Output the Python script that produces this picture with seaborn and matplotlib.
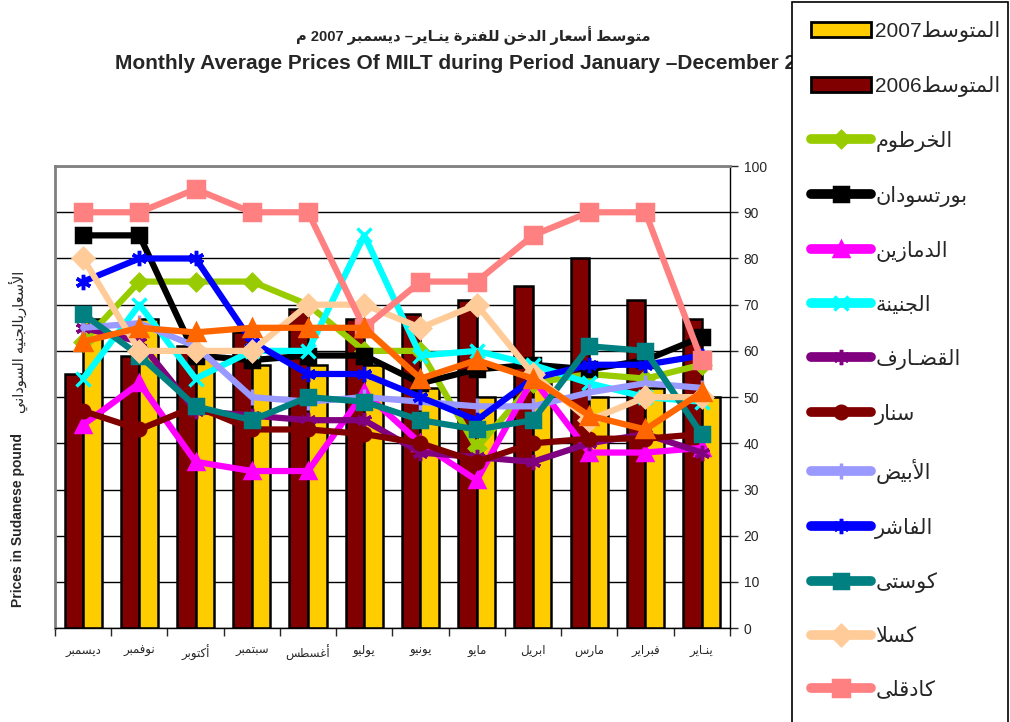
import re
import pandas as pd
import numpy as np
import matplotlib
matplotlib.use("Agg")
import matplotlib.pyplot as plt
import seaborn as sns
from matplotlib.lines import Line2D
from matplotlib.patches import Patch

# Arabic presentation forms: letter -> (isolated code point, number of forms)
ARABIC_FORMS = {
    'ء': (0xFE80, 1), 'آ': (0xFE81, 2), 'أ': (0xFE83, 2), 'ؤ': (0xFE85, 2), 'إ': (0xFE87, 2),
    'ئ': (0xFE89, 4), 'ا': (0xFE8D, 2), 'ب': (0xFE8F, 4), 'ة': (0xFE93, 2), 'ت': (0xFE95, 4),
    'ث': (0xFE99, 4), 'ج': (0xFE9D, 4), 'ح': (0xFEA1, 4), 'خ': (0xFEA5, 4), 'د': (0xFEA9, 2),
    'ذ': (0xFEAB, 2), 'ر': (0xFEAD, 2), 'ز': (0xFEAF, 2), 'س': (0xFEB1, 4), 'ش': (0xFEB5, 4),
    'ص': (0xFEB9, 4), 'ض': (0xFEBD, 4), 'ط': (0xFEC1, 4), 'ظ': (0xFEC5, 4), 'ع': (0xFEC9, 4),
    'غ': (0xFECD, 4), 'ف': (0xFED1, 4), 'ق': (0xFED5, 4), 'ك': (0xFED9, 4), 'ل': (0xFEDD, 4),
    'م': (0xFEE1, 4), 'ن': (0xFEE5, 4), 'ه': (0xFEE9, 4), 'و': (0xFEED, 2), 'ى': (0xFEEF, 2),
    'ي': (0xFEF1, 4),
}
LAM_ALEF = {'آ': 0xFEF5, 'أ': 0xFEF7, 'إ': 0xFEF9, 'ا': 0xFEFB}
TATWEEL = 'ـ'


def joins_next(c):
    return c == TATWEEL or (c in ARABIC_FORMS and ARABIC_FORMS[c][1] == 4)


def joins_prev(c):
    return c == TATWEEL or (c in ARABIC_FORMS and ARABIC_FORMS[c][1] > 1)


def ar(text):
    """Shape Arabic letters and put them in left-to-right drawing order."""
    out = []
    i = 0
    while i < len(text):
        c = text[i]
        link_prev = i > 0 and joins_next(text[i - 1])
        if c == 'ل' and i + 1 < len(text) and text[i + 1] in LAM_ALEF:
            out.append(chr(LAM_ALEF[text[i + 1]] + (1 if link_prev else 0)))
            i += 2
            continue
        if c in ARABIC_FORMS:
            base, n = ARABIC_FORMS[c]
            link_next = n == 4 and i + 1 < len(text) and joins_prev(text[i + 1])
            if n == 1:
                code = base
            elif link_prev and link_next:
                code = base + 3
            elif link_next:
                code = base + 2
            elif link_prev:
                code = base + 1
            else:
                code = base
            out.append(chr(code))
        else:
            out.append(c)
        i += 1
    visual = ''.join(out)[::-1]
    return re.sub(r'[0-9A-Za-z.]+', lambda m: m.group(0)[::-1], visual)


# months January..December (axis runs right to left)
months = ['ينـاير', 'فبراير', 'مارس', 'ابريل', 'مايو', 'يونيو',
          'يوليو', 'أغسطس', 'سبتمبر', 'أكتوبر', 'نوفمبر', 'ديسمبر']

avg_2007 = [50, 52, 50, 53, 50, 52, 57, 57, 57, 59, 67, 67]
avg_2006 = [67, 71, 80, 74, 71, 68, 67, 69, 64, 61, 59, 55]

khartoum = [57, 54, 55, 53, 39, 60, 60, 70, 75, 75, 75, 62]
port_sudan = [63, 58, 56, 57, 56, 53, 59, 59, 58, 59, 85, 85]
damazin = [39, 38, 38, 54, 32, 40, 51, 34, 34, 36, 53, 44]
geneina = [49, 50, 53, 57, 60, 59, 85, 60, 60, 54, 70, 54]
gedaref = [38, 42, 40, 36, 37, 38, 45, 45, 46, 47, 62, 65]
sennar = [42, 41, 41, 40, 36, 40, 42, 43, 43, 48, 43, 47]
obeid = [52, 53, 51, 48, 48, 49, 50, 49, 50, 61, 66, 65]
fasher = [59, 57, 57, 54, 45, 50, 55, 55, 62, 80, 80, 75]
kosti = [42, 60, 61, 45, 43, 45, 49, 50, 45, 48, 59, 68]
kassala = [50, 50, 45, 55, 70, 65, 70, 70, 60, 60, 60, 80]
kadugli = [58, 90, 90, 85, 75, 75, 65, 90, 90, 95, 90, 90]
unnamed_orange = [51, 43, 46, 54, 58, 54, 65, 65, 65, 64, 65, 62]

bar_labels = ['المتوسط2007', 'المتوسط2006']
# the last legend entry falls below the page edge in the original
city_labels = ['الخرطوم', 'بورتسودان', 'الدمازين', 'الجنينة', 'القضـارف', 'سنار',
               'الأبيض', 'الفاشر', 'كوستى', 'كسلا', 'كادقلى', '']

title_ar = 'متوسط أسعار الدخن للفترة ينـاير– ديسمبر 2007 م'
title_en = 'Monthly Average Prices Of MILT during Period January –December 2007'
ylabel_en = 'Prices in Sudanese pound'
ylabel_ar = 'الأسعاربالجنيه السوداني'

# style per line: colour, marker, marker size
series = [
    (khartoum, '#99CC00', 'D', 8),
    (port_sudan, '#000000', 's', 10),
    (damazin, '#FF00FF', '^', 10),
    (geneina, '#00FFFF', 'x', 10),
    (gedaref, '#800080', (6, 2, 0), 11),
    (sennar, '#800000', 'o', 9),
    (obeid, '#9999FF', '|', 11),
    (fasher, '#0000FF', (6, 2, 0), 11),
    (kosti, '#008080', 's', 10),
    (kassala, '#FFCC99', 'D', 10),
    (kadugli, '#FF8080', 's', 11),
    (unnamed_orange, '#FF6600', '^', 11),
]

sns.set_style("white")
plt.rcParams['font.family'] = ['Liberation Sans', 'DejaVu Sans']

shaped_months = [ar(m) for m in months]
order = shaped_months[::-1]  # December on the left

fig = plt.figure(figsize=(10.1, 7.22), dpi=100)
ax = fig.add_axes([0.0545, 0.130, 0.668, 0.640])

bars = pd.DataFrame({
    'month': shaped_months * 2,
    'price': avg_2006 + avg_2007,
    'year': ['2006'] * 12 + ['2007'] * 12,
})
sns.barplot(data=bars, x='month', y='price', hue='year', order=order,
            hue_order=['2006', '2007'], palette=['#800000', '#FFCC00'],
            saturation=1, width=0.66, gap=0, edgecolor='black',
            linewidth=1.8, legend=False, ax=ax)

for vals, color, marker, msize in series:
    sns.pointplot(x=shaped_months, y=vals, order=order, color=color,
                  markers=marker, linestyles='-', markersize=msize,
                  linewidth=4.5, errorbar=None, ax=ax)
for line in ax.lines:
    line.set_markeredgecolor(line.get_color())
    line.set_markeredgewidth(2.5)
    line.set_solid_joinstyle('round')

ax.set_xlim(-0.5, 11.5)
ax.set_ylim(0, 100)
ax.set_yticks(np.arange(0, 101, 10))
ax.yaxis.tick_right()
ax.grid(axis='y', color='black', linewidth=1)
ax.set_axisbelow(True)
ax.set_xlabel('')
ax.set_ylabel('')
ax.tick_params(axis='y', right=True, length=6, width=1, direction='out',
               labelsize=10, pad=4)
ax.tick_params(axis='x', which='major', length=0, labelsize=8.5, pad=12)
ax.set_xticks(np.arange(-0.5, 12, 1), minor=True)
ax.tick_params(axis='x', which='minor', bottom=True, length=6, width=1,
               direction='out')
for side in ['left', 'top']:
    ax.spines[side].set_color('#808080')
    ax.spines[side].set_linewidth(2)
for side in ['right', 'bottom']:
    ax.spines[side].set_color('black')
    ax.spines[side].set_linewidth(1)

fig.text(0.469, 0.951, ar(title_ar), ha='center', va='center',
         fontsize=10.5, fontweight='bold')
fig.text(0.114, 0.912, title_en, ha='left', va='center',
         fontsize=15, fontweight='bold')
fig.text(0.018, 0.28, ylabel_en, rotation=90, ha='center', va='center',
         fontsize=10, fontweight='bold')
fig.text(0.018, 0.527, ar(ylabel_ar), rotation=90, ha='center', va='center',
         fontsize=10.5)

handles = [Patch(facecolor='#FFCC00', edgecolor='black', linewidth=2),
           Patch(facecolor='#800000', edgecolor='black', linewidth=2)]
for vals, color, marker, msize in series:
    handles.append(Line2D([], [], color=color, lw=7, marker=marker,
                          markersize=msize, markeredgecolor=color,
                          markeredgewidth=2.5, solid_capstyle='round'))
labels = [ar(t) for t in bar_labels + city_labels]
leg = fig.legend(handles, labels, loc='upper left',
                 bbox_to_anchor=(0.784, 0.0, 0.214, 0.997), mode='expand',
                 borderaxespad=0, fontsize=15, labelspacing=1.63,
                 handlelength=2.9, handleheight=0.75, handletextpad=0.2,
                 borderpad=0.9, fancybox=False, framealpha=1,
                 edgecolor='black')
leg.get_frame().set_linewidth(1.2)

fig.savefig('out.png', dpi=100)
